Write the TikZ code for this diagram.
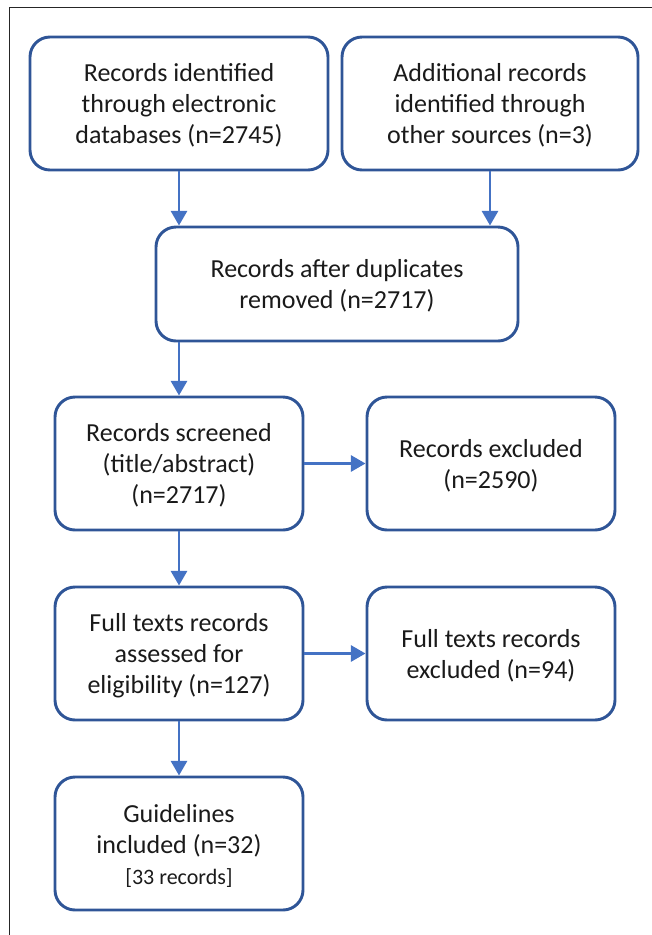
\documentclass[tikz,border=0pt]{standalone}
\usepackage{fontspec}
\setmainfont{Carlito}
\usetikzlibrary{arrows.meta}
\definecolor{boxblue}{HTML}{2F5597}
\definecolor{arrblue}{HTML}{4472C4}
\definecolor{txt}{HTML}{1A1A1A}
\begin{document}
\begin{tikzpicture}[x=0.75pt,y=-0.75pt,
  flowbox/.style={draw=boxblue,line width=2.2pt,rounded corners=15pt,inner sep=0pt},
  boxtext/.style={align=center,text=txt,font=\fontsize{19.5}{23.3}\selectfont,inner sep=0pt,yshift=-1.6pt},
  conn/.style={draw=arrblue,line width=2.2pt,-{Triangle[width=12pt,length=11pt]}}]
\useasboundingbox (0,0) rectangle (652,935);
\draw[line width=0.8pt,black!85] (9.5,935) -- (9.5,7.5) -- (652,7.5);
\node[flowbox,minimum width=223.5pt,minimum height=99.75pt,
  label={[boxtext]center:{Records identified\\through electronic\\databases (n=2745)}}] (b1) at (179,103.5) {};
\node[flowbox,minimum width=222pt,minimum height=99.75pt,
  label={[boxtext]center:{Additional records\\identified through\\other sources (n=3)}}] (b2) at (490,103.5) {};
\node[flowbox,minimum width=271.5pt,minimum height=85.5pt,
  label={[boxtext]center:{Records after duplicates\\removed (n=2717)}}] (b3) at (337,284) {};
\node[flowbox,minimum width=186pt,minimum height=99.75pt,
  label={[boxtext]center:{Records screened\\(title/abstract)\\(n=2717)}}] (b4) at (179,463.5) {};
\node[flowbox,minimum width=186pt,minimum height=99.75pt,
  label={[boxtext]center:{Records excluded\\(n=2590)}}] (b5) at (491,463.5) {};
\node[flowbox,minimum width=186pt,minimum height=99.75pt,
  label={[boxtext]center:{Full texts records\\assessed for\\eligibility (n=127)}}] (b6) at (179,653.5) {};
\node[flowbox,minimum width=186pt,minimum height=99.75pt,
  label={[boxtext]center:{Full texts records\\excluded (n=94)}}] (b7) at (491,653.5) {};
\node[flowbox,minimum width=186pt,minimum height=99.75pt,
  label={[boxtext]center:{Guidelines\\included (n=32)\\{\fontsize{16.5}{21}\selectfont [33 records]}}}] (b8) at (179,843.5) {};
\draw[conn] (b1.south) -- (b1.south |- b3.north);
\draw[conn] (b2.south) -- (b2.south |- b3.north);
\draw[conn] (b3.south -| b4.north) -- (b4.north);
\draw[conn] (b4.east) -- (b5.west);
\draw[conn] (b4.south) -- (b6.north);
\draw[conn] (b6.east) -- (b7.west);
\draw[conn] (b6.south) -- (b8.north);
\end{tikzpicture}
\end{document}
